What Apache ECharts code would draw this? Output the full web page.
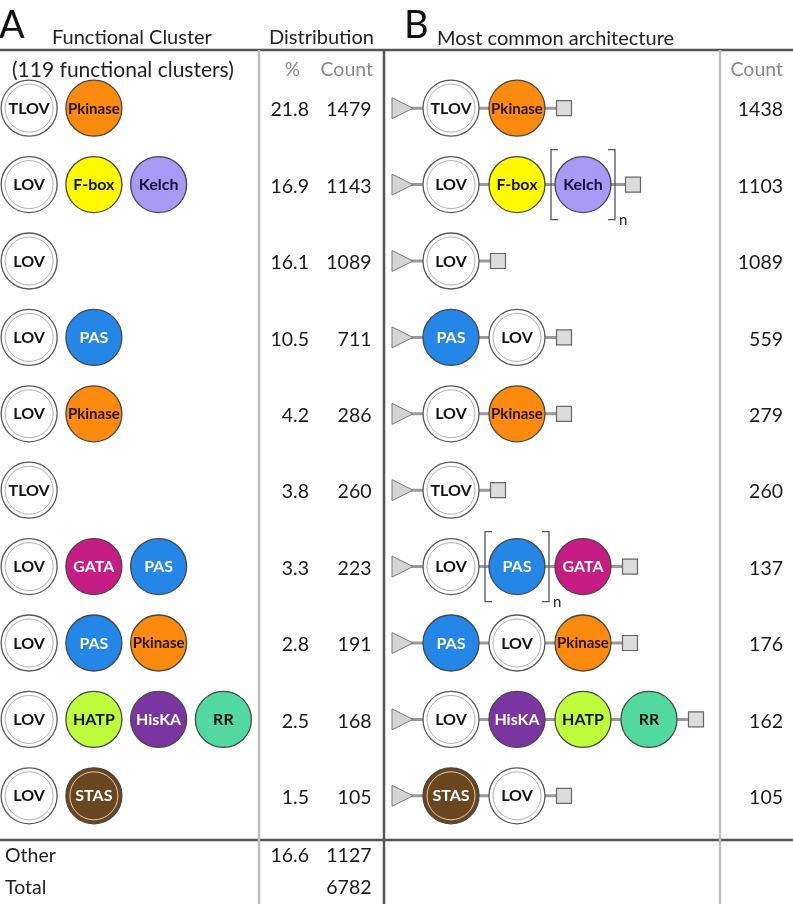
<!DOCTYPE html>
<html><head><meta charset="utf-8">
<script src="https://cdn.jsdelivr.net/npm/echarts@6/dist/echarts.min.js"></script>
<style>html,body{margin:0;padding:0;background:#fff}#c{width:793px;height:904px}</style>
</head><body><div id="c"></div>
<script>
// ---------- data ----------
const rowIds = ["r1","r2","r3","r4","r5","r6","r7","r8","r9","r10"];
const clusterDomains = [["TLOV","Pkinase"],["LOV","F-box","Kelch"],["LOV"],["LOV","PAS"],["LOV","Pkinase"],["TLOV"],["LOV","GATA","PAS"],["LOV","PAS","Pkinase"],["LOV","HATP","HisKA","RR"],["LOV","STAS"]];
const clusterPercent = [21.8,16.9,16.1,10.5,4.2,3.8,3.3,2.8,2.5,1.5];
const clusterCount = [1479,1143,1089,711,286,260,223,191,168,105];
const archDomains = [["TLOV","Pkinase"],["LOV","F-box","Kelch"],["LOV"],["PAS","LOV"],["LOV","Pkinase"],["TLOV"],["LOV","PAS","GATA"],["PAS","LOV","Pkinase"],["LOV","HisKA","HATP","RR"],["STAS","LOV"]];
const archRepeatIndex = [-1,2,-1,-1,-1,-1,1,-1,-1,-1];
const archCount = [1438,1103,1089,559,279,260,137,176,162,105];
const summaryLabels = ["Other","Total"];
const summaryPercent = [16.6,null];
const summaryCount = [1127,6782];
const distColumns = ["%","Count"];
const archColumns = ["Count"];

// ---------- styles ----------
const FONT = 'Lato, "Open Sans", sans-serif';
const STYLE = {
  LOV:{fill:'#ffffff',text:'#111',ring:'#a8a8a8'},
  TLOV:{fill:'#ffffff',text:'#111',ring:'#a8a8a8'},
  Pkinase:{fill:'#FB8A0E',text:'#2a1400'},
  'F-box':{fill:'#FFFA00',text:'#111'},
  Kelch:{fill:'#A899F4',text:'#16123a'},
  PAS:{fill:'#2486E6',text:'#ffffff'},
  GATA:{fill:'#C71C83',text:'#ffffff'},
  HATP:{fill:'#BEFC3C',text:'#111'},
  HisKA:{fill:'#7A35A1',text:'#ffffff'},
  RR:{fill:'#52D9A0',text:'#111'},
  STAS:{fill:'#694520',text:'#ffffff',ring:'#F3DDB8'}
};
const R = 28;
function domainEls(cx, cy, name){
  const s = STYLE[name];
  const white = s.fill === '#ffffff';
  const els = [{type:'circle', shape:{cx, cy, r:R}, style:{fill:s.fill, stroke: white ? '#5a5a5a' : '#474747', lineWidth:1.3}}];
  if (s.ring) els.push({type:'circle', shape:{cx, cy, r:R-4}, style:{fill:'none', stroke:s.ring, lineWidth:0.9}});
  const fs = name === 'Pkinase' ? 15 : 16;
  els.push({type:'text', x:cx, y:cy+0.5, style:{text:name, fill:s.text, font:'bold ' + fs + 'px ' + FONT, align:'center', verticalAlign:'middle'}});
  return els;
}

const chart = echarts.init(document.getElementById('c'), null, {renderer:'canvas'});
const ROW_TOP = 70, ROW_H = 764;
const hiddenCat = (data) => ({type:'category', data, inverse:true, show:false});

const option = {
  animation:false,
  backgroundColor:'#ffffff',
  grid:[
    {left:0, width:259, top:ROW_TOP, height:ROW_H},
    {left:259, width:125, top:ROW_TOP, height:ROW_H},
    {left:385, width:335, top:ROW_TOP, height:ROW_H},
    {left:720, width:73, top:ROW_TOP, height:ROW_H},
    {left:259, width:125, top:840, height:70}
  ],
  xAxis:[
    {gridIndex:0, type:'value', min:-0.45, max:3.55, show:false},
    {gridIndex:1, type:'category', data:distColumns, show:false},
    {gridIndex:2, type:'value', min:-1, max:4.076, show:false},
    {gridIndex:3, type:'category', data:archColumns, show:false},
    {gridIndex:4, type:'category', data:distColumns, show:false}
  ],
  yAxis:[
    Object.assign({gridIndex:0}, hiddenCat(rowIds)),
    Object.assign({gridIndex:1}, hiddenCat(rowIds)),
    Object.assign({gridIndex:2}, hiddenCat(rowIds)),
    Object.assign({gridIndex:3}, hiddenCat(rowIds)),
    {gridIndex:4, type:'category', data:summaryLabels, inverse:true,
     axisLine:{show:false}, axisTick:{show:false},
     axisLabel:{margin:254, align:'left', fontSize:19.5, fontFamily:FONT, color:'#222'}}
  ],
  graphic:{elements:[
    {type:'line', shape:{x1:0,y1:50,x2:793,y2:50}, style:{stroke:'#555',lineWidth:2.5}},
    {type:'line', shape:{x1:0,y1:840,x2:793,y2:840}, style:{stroke:'#555',lineWidth:2.5}},
    {type:'line', shape:{x1:259,y1:50,x2:259,y2:904}, style:{stroke:'#bdbdbd',lineWidth:2.5}},
    {type:'line', shape:{x1:720,y1:50,x2:720,y2:904}, style:{stroke:'#bdbdbd',lineWidth:2.5}},
    {type:'line', shape:{x1:384,y1:50,x2:384,y2:904}, style:{stroke:'#555',lineWidth:2.5}},
    {type:'text', x:-1, y:26, style:{text:'A', font:'38px '+FONT, fill:'#111', verticalAlign:'middle'}},
    {type:'text', x:52, y:38, style:{text:'Functional Cluster', font:'20px '+FONT, fill:'#222', verticalAlign:'middle'}},
    {type:'text', x:269, y:38, style:{text:'Distribution', font:'20px '+FONT, fill:'#222', verticalAlign:'middle'}},
    {type:'text', x:404, y:26, style:{text:'B', font:'38px '+FONT, fill:'#111', verticalAlign:'middle'}},
    {type:'text', x:437, y:39, style:{text:'Most common architecture', font:'20px '+FONT, fill:'#222', verticalAlign:'middle'}},
    {type:'text', x:12, y:70, style:{text:'(119 functional clusters)', font:'21px '+FONT, fill:'#222', verticalAlign:'middle'}},
    {type:'text', x:300, y:70, style:{text:'%', font:'19px '+FONT, fill:'#8a8a8a', align:'right', verticalAlign:'middle'}},
    {type:'text', x:373, y:70, style:{text:'Count', font:'19.5px '+FONT, fill:'#8a8a8a', align:'right', verticalAlign:'middle'}},
    {type:'text', x:783, y:70, style:{text:'Count', font:'19.5px '+FONT, fill:'#8a8a8a', align:'right', verticalAlign:'middle'}}
  ]},
  series:[
    { // A: functional cluster domains
      type:'custom', xAxisIndex:0, yAxisIndex:0, clip:false,
      data: rowIds.map((id,i)=>[0,i]),
      renderItem(params, api){
        const row = api.value(1);
        const children = [];
        clusterDomains[row].forEach((d,j)=>{ const p = api.coord([j,row]); children.push(...domainEls(p[0],p[1],d)); });
        return {type:'group', children};
      }
    },
    { // A: distribution numbers
      type:'custom', xAxisIndex:1, yAxisIndex:1, clip:false,
      data: rowIds.map((id,i)=>[0,i]),
      renderItem(params, api){
        const row = api.value(1);
        const w = api.size([1,1])[0];
        const p0 = api.coord([0,row]), p1 = api.coord([1,row]);
        const st = (t)=>({text:t, font:'19.5px '+FONT, fill:'#1a1a1a', align:'right', verticalAlign:'middle'});
        return {type:'group', children:[
          {type:'text', x:p0[0]+w*0.3, y:p0[1]+2, style:st(clusterPercent[row].toFixed(1))},
          {type:'text', x:p1[0]+w*0.3, y:p1[1]+2, style:st(String(clusterCount[row]))}
        ]};
      }
    },
    { // B: architectures
      type:'custom', xAxisIndex:2, yAxisIndex:2, clip:false,
      data: rowIds.map((id,i)=>[0,i]),
      renderItem(params, api){
        const row = api.value(1);
        const doms = archDomains[row], rep = archRepeatIndex[row];
        const s0 = api.coord([0,row]); const cy = s0[1];
        const xs = doms.map((d,j)=>api.coord([j,row])[0]);
        const last = xs[xs.length-1];
        const sq = last + (rep === doms.length-1 ? 50 : 47);
        const children = [
          {type:'line', shape:{x1:s0[0]-42, y1:cy, x2:sq, y2:cy}, style:{stroke:'#9a9a9a', lineWidth:3}},
          {type:'polygon', shape:{points:[[s0[0]-59,cy-10.5],[s0[0]-38,cy],[s0[0]-59,cy+10.5]]}, style:{fill:'#d4d4d4', stroke:'#7a7a7a', lineWidth:1}},
          {type:'rect', shape:{x:sq-7.5, y:cy-7.5, width:15, height:15}, style:{fill:'#dcdcdc', stroke:'#666', lineWidth:1.2}}
        ];
        doms.forEach((d,j)=>children.push(...domainEls(xs[j], cy, d)));
        if (rep >= 0){
          const cx = xs[rep];
          children.push({type:'polyline', shape:{points:[[cx-25,cy-35],[cx-32,cy-35],[cx-32,cy+35],[cx-25,cy+35]]}, style:{fill:'none', stroke:'#555', lineWidth:1.3}});
          children.push({type:'polyline', shape:{points:[[cx+25,cy-35],[cx+32,cy-35],[cx+32,cy+35],[cx+25,cy+35]]}, style:{fill:'none', stroke:'#555', lineWidth:1.3}});
          children.push({type:'text', x:cx+36, y:cy+36, style:{text:'n', font:'15px '+FONT, fill:'#222', verticalAlign:'middle'}});
        }
        return {type:'group', children};
      }
    },
    { // B: counts
      type:'custom', xAxisIndex:3, yAxisIndex:3, clip:false,
      data: rowIds.map((id,i)=>[0,i]),
      renderItem(params, api){
        const row = api.value(1);
        const w = api.size([1,1])[0];
        const p = api.coord([0,row]);
        return {type:'text', x:p[0]+w*0.5-10, y:p[1]+2, style:{text:String(archCount[row]), font:'19.5px '+FONT, fill:'#1a1a1a', align:'right', verticalAlign:'middle'}};
      }
    },
    { // summary rows
      type:'custom', xAxisIndex:4, yAxisIndex:4, clip:false,
      data: summaryLabels.map((l,i)=>[0,i]),
      renderItem(params, api){
        const row = api.value(1);
        const w = api.size([1,1])[0];
        const p0 = api.coord([0,row]), p1 = api.coord([1,row]);
        const st = (t)=>({text:t, font:'19.5px '+FONT, fill:'#1a1a1a', align:'right', verticalAlign:'middle'});
        const ch = [];
        if (summaryPercent[row] != null) ch.push({type:'text', x:p0[0]+w*0.3, y:p0[1], style:st(summaryPercent[row].toFixed(1))});
        ch.push({type:'text', x:p1[0]+w*0.3, y:p1[1], style:st(String(summaryCount[row]))});
        return {type:'group', children:ch};
      }
    }
  ]
};
chart.setOption(option);
</script>
</body></html>
